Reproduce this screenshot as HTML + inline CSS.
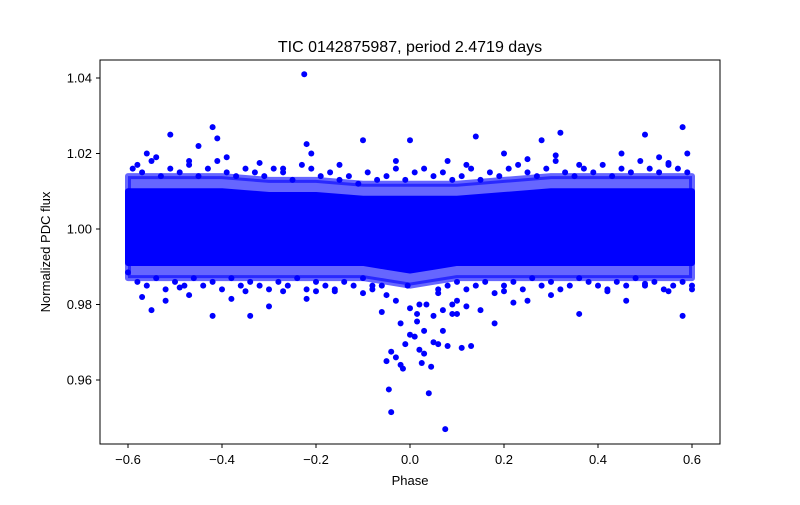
<!DOCTYPE html>
<html><head><meta charset="utf-8"><style>
body{margin:0;background:#fff;}
svg text{font-family:"Liberation Sans","DejaVu Sans",sans-serif;fill:#000;}
</style></head><body>
<svg id="chart" width="800" height="500">
<rect width="800" height="500" fill="#fff"/>
<g id="plot"></g>
<rect x="100" y="60" width="620" height="384" fill="none" stroke="#000" stroke-width="1"/>
<g id="xticks"></g>
<g id="yticks"></g>
<text x="410" y="52" text-anchor="middle" font-size="16">TIC 0142875987, period 2.4719 days</text>
<text x="410" y="485" text-anchor="middle" font-size="13">Phase</text>
<text x="50" y="252" text-anchor="middle" font-size="13" transform="rotate(-90 50 252)">Normalized PDC flux</text>
</svg>
<script>
const xTicks=[-0.6,-0.4,-0.2,0.0,0.2,0.4,0.6];
const xTickLabels=["−0.6","−0.4","−0.2","0.0","0.2","0.4","0.6"];
const yTicks=[0.96,0.98,1.00,1.02,1.04];
const yTickLabels=["0.96","0.98","1.00","1.02","1.04"];
// density band envelope (binned phase)
const bandPhase=[-0.6,-0.5,-0.4,-0.3,-0.2,-0.1,-0.05,0.0,0.05,0.1,0.2,0.3,0.4,0.5,0.6];
const coreLow=[0.991,0.991,0.991,0.991,0.991,0.991,0.990,0.989,0.990,0.991,0.991,0.991,0.991,0.991,0.991];
const coreHigh=[1.010,1.010,1.010,1.009,1.009,1.008,1.008,1.008,1.008,1.008,1.009,1.010,1.010,1.010,1.010];
const fringeLow=[0.987,0.987,0.987,0.987,0.987,0.987,0.986,0.985,0.986,0.987,0.987,0.987,0.987,0.987,0.987];
const fringeHigh=[1.014,1.014,1.014,1.013,1.013,1.012,1.012,1.012,1.012,1.012,1.013,1.014,1.014,1.014,1.014];
// individually read outlier points
const ptPhase=[-0.225,-0.42,-0.41,-0.51,0.58,0.5,0.32,0.14,0.28,-0.1,0.0,-0.22,-0.45,-0.56,-0.54,-0.47,-0.39,-0.32,-0.21,-0.03,0.08,0.2,0.25,0.31,0.45,0.53,0.59,0.55,-0.58,0.12,-0.27,0.36,-0.15,
-0.6,-0.57,-0.55,-0.52,-0.49,-0.47,-0.42,-0.38,-0.35,-0.34,-0.3,-0.27,-0.22,-0.2,-0.16,-0.1,-0.08,-0.05,0.2,0.22,0.25,0.3,0.36,0.42,0.46,0.5,0.55,0.58,0.6,0.15,0.18,0.12,0.1,
-0.05,-0.04,-0.045,-0.04,-0.03,-0.02,-0.015,-0.01,0.0,0.01,0.015,0.02,0.025,0.03,0.04,0.045,0.05,0.06,0.075,0.08,0.07,0.09,0.1,0.11,0.13,0.09,-0.02,0.0,0.02,0.03,-0.06,-0.005,0.05,0.06,-0.03,0.035,0.015,0.07];
const ptFlux=[1.041,1.027,1.024,1.025,1.027,1.025,1.0255,1.0245,1.0235,1.0235,1.0235,1.0225,1.022,1.02,1.019,1.018,1.019,1.0175,1.02,1.018,1.018,1.02,1.0185,1.0195,1.02,1.019,1.02,1.0175,1.017,1.017,1.016,1.017,1.017,
0.9885,0.982,0.9785,0.981,0.9845,0.9825,0.977,0.9815,0.9835,0.977,0.9795,0.9835,0.9815,0.9835,0.9835,0.983,0.985,0.9825,0.9835,0.9805,0.981,0.9825,0.9775,0.9835,0.981,0.9855,0.9835,0.977,0.984,0.9785,0.975,0.9795,0.981,
0.965,0.9675,0.9575,0.9515,0.966,0.964,0.963,0.9695,0.972,0.9715,0.9755,0.968,0.9645,0.967,0.9565,0.9635,0.97,0.9695,0.947,0.969,0.973,0.9775,0.9775,0.9685,0.969,0.98,0.975,0.979,0.98,0.973,0.978,0.985,0.977,0.983,0.981,0.98,0.9775,0.9785];
// fringe points around band edges
const frPhase=[-0.59,-0.57,-0.55,-0.53,-0.51,-0.49,-0.47,-0.45,-0.43,-0.41,-0.39,-0.37,-0.35,-0.33,-0.31,-0.29,-0.27,-0.25,-0.23,-0.21,-0.19,-0.17,-0.15,-0.13,-0.11,-0.09,-0.07,-0.05,-0.03,-0.01,0.01,0.03,0.05,0.07,0.09,0.11,0.13,0.15,0.17,0.19,0.21,0.23,0.25,0.27,0.29,0.31,0.33,0.35,0.37,0.39,0.41,0.43,0.45,0.47,0.49,0.51,0.53,0.55,0.57,0.59,
-0.58,-0.56,-0.54,-0.52,-0.5,-0.48,-0.46,-0.44,-0.42,-0.4,-0.38,-0.36,-0.34,-0.32,-0.3,-0.28,-0.26,-0.24,-0.22,-0.2,-0.18,-0.16,-0.14,-0.12,-0.1,-0.08,-0.06,0.06,0.08,0.1,0.12,0.14,0.16,0.18,0.2,0.22,0.24,0.26,0.28,0.3,0.32,0.34,0.36,0.38,0.4,0.42,0.44,0.46,0.48,0.5,0.52,0.54,0.56,0.58,0.6];
const frFlux=[1.016,1.015,1.018,1.014,1.016,1.015,1.017,1.014,1.016,1.018,1.015,1.014,1.016,1.015,1.014,1.016,1.015,1.013,1.017,1.016,1.014,1.015,1.013,1.014,1.012,1.015,1.013,1.014,1.016,1.013,1.015,1.016,1.014,1.015,1.013,1.014,1.016,1.013,1.015,1.014,1.016,1.017,1.015,1.014,1.016,1.018,1.015,1.014,1.016,1.015,1.017,1.014,1.016,1.015,1.018,1.016,1.015,1.017,1.016,1.015,
0.986,0.985,0.987,0.984,0.986,0.985,0.987,0.985,0.986,0.984,0.987,0.985,0.986,0.985,0.984,0.986,0.985,0.987,0.984,0.986,0.985,0.984,0.986,0.985,0.987,0.984,0.985,0.984,0.985,0.986,0.984,0.985,0.986,0.983,0.985,0.986,0.984,0.987,0.985,0.986,0.984,0.985,0.987,0.986,0.985,0.984,0.986,0.985,0.987,0.985,0.986,0.984,0.985,0.986,0.985];

const X=v=>410+v*470;
const Y=v=>229-(v-1.0)*3775;
const NS="http://www.w3.org/2000/svg";
const plot=document.getElementById('plot');
function band(lo,hi,op,name){
  let pts=bandPhase.map((p,i)=>X(p)+','+Y(hi[i]));
  for(let i=bandPhase.length-1;i>=0;i--)pts.push(X(bandPhase[i])+','+Y(lo[i]));
  const pg=document.createElementNS(NS,'polygon');
  pg.setAttribute('points',pts.join(' '));
  pg.setAttribute('fill','#0000ff');pg.setAttribute('fill-opacity',op);
  pg.setAttribute('stroke','#0000ff');pg.setAttribute('stroke-width','6');pg.setAttribute('stroke-opacity',op);pg.setAttribute('stroke-linejoin','round');
  
  
  plot.appendChild(pg);
}
band(fringeLow,fringeHigh,0.6,'fringe-density-band');
band(coreLow,coreHigh,1,'core-density-band');
function dot(p,f){
  const c=document.createElementNS(NS,'circle');
  c.setAttribute('cx',X(p));c.setAttribute('cy',Y(f));c.setAttribute('r',3);c.setAttribute('fill','#0000ff');
  
  
  plot.appendChild(c);
}
frPhase.forEach((p,i)=>dot(p,frFlux[i]));
ptPhase.forEach((p,i)=>dot(p,ptFlux[i]));
const xg=document.getElementById('xticks');
xTicks.forEach((t,i)=>{
  const l=document.createElementNS(NS,'line');
  l.setAttribute('x1',X(t));l.setAttribute('x2',X(t));l.setAttribute('y1',444);l.setAttribute('y2',448);l.setAttribute('stroke','#000');
  
  
  xg.appendChild(l);
  const tx=document.createElementNS(NS,'text');
  tx.setAttribute('x',X(t));tx.setAttribute('y',464);tx.setAttribute('text-anchor','middle');tx.setAttribute('font-size','13');
  tx.textContent=xTickLabels[i];
  
  
  xg.appendChild(tx);
});
const yg=document.getElementById('yticks');
yTicks.forEach((t,i)=>{
  const l=document.createElementNS(NS,'line');
  l.setAttribute('x1',96);l.setAttribute('x2',100);l.setAttribute('y1',Y(t));l.setAttribute('y2',Y(t));l.setAttribute('stroke','#000');
  
  
  yg.appendChild(l);
  const tx=document.createElementNS(NS,'text');
  tx.setAttribute('x',92);tx.setAttribute('y',Y(t)+4.5);tx.setAttribute('text-anchor','end');tx.setAttribute('font-size','13');
  tx.textContent=yTickLabels[i];
  
  
  yg.appendChild(tx);
});
</script>
</body></html>
